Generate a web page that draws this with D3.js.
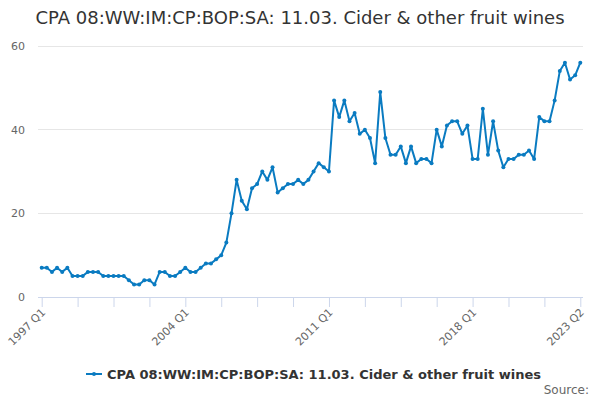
<!DOCTYPE html>
<html><head><meta charset="utf-8">
<script src="https://cdn.jsdelivr.net/npm/d3@7"></script>
<style>body{margin:0;background:#fff}svg{display:block;font-family:"DejaVu Sans",sans-serif}</style>
</head><body><svg id="c" width="600" height="400"></svg>
<script>
const title = "CPA 08:WW:IM:CP:BOP:SA: 11.03. Cider & other fruit wines";
const seriesName = "CPA 08:WW:IM:CP:BOP:SA: 11.03. Cider & other fruit wines";
const startYear = 1997;
const values = [7,7,6,7,6,7,5,5,5,6,6,6,5,5,5,5,5,4,3,3,4,4,3,6,6,5,5,6,
  7,6,6,7,8,8,9,10,13,20,28,23,21,26,27,30,28,31,25,26,27,27,28,27,28,30,32,31,
  30,47,43,47,42,44,39,40,38,32,49,38,34,34,36,32,36,32,33,33,32,40,36,41,42,42,39,41,
  33,33,45,34,42,35,31,33,33,34,34,35,33,43,42,42,47,54,56,52,53,56];
const categories = values.map((v,i)=> (startYear + Math.floor(i/4)) + " Q" + (i%4+1));
const yTicks = [0,20,40,60];
const labelledCats = ["1997 Q1","2004 Q1","2011 Q1","2018 Q1","2023 Q2"];

const svg = d3.select("#c");
const m = {l:41.7, r:580.3, t:46, b:297};
const x = d3.scalePoint().domain(categories).range([m.l, m.r]);
const y = d3.scaleLinear().domain([0,60]).range([m.b, m.t]);

svg.append("text").attr("x",300).attr("y",24).attr("text-anchor","middle")
  .attr("font-size",18).attr("fill","#333").text(title);

// grid
svg.append("g").selectAll("line").data(yTicks.filter(d=>d>0)).join("line")
  .attr("x1",38).attr("x2",583).attr("y1",d=>y(d)).attr("y2",d=>y(d))
  .attr("stroke","#e6e6e6").attr("stroke-width",1).attr("shape-rendering","crispEdges");
svg.append("g").selectAll("text").data(yTicks).join("text")
  .attr("x",25).attr("y",d=>y(d)+4).attr("text-anchor","end")
  .attr("font-size",11).attr("fill","#666").text(d=>d);

// x axis
const tickCats = categories.filter((c,i)=>i%7===0);
const xAxis = d3.axisBottom(x).tickValues(tickCats).tickSize(10)
  .tickFormat(d=> labelledCats.includes(d)? d : "");
const gx = svg.append("g").attr("transform",`translate(0,${m.b})`).call(xAxis);
gx.select(".domain").attr("d",`M38,0.5H583`).attr("stroke","#ccd6eb");
gx.selectAll(".tick line").attr("stroke","#ccd6eb");
gx.selectAll(".tick text").attr("font-size",11).attr("fill","#666")
  .attr("font-family","DejaVu Sans, sans-serif")
  .attr("text-anchor","end").attr("dy",null).attr("y",0)
  .attr("transform","translate(4,16) rotate(-45)");

const col = "#0a7bc1";
svg.append("path").datum(values).attr("fill","none").attr("stroke",col)
  .attr("stroke-width",2).attr("stroke-linejoin","round")
  .attr("d", d3.line().x((d,i)=>x(categories[i])).y(d=>y(d)));
svg.append("g").selectAll("circle").data(values).join("circle")
  .attr("cx",(d,i)=>x(categories[i])).attr("cy",d=>y(d)).attr("r",2).attr("fill",col);

// legend
const lg = svg.append("g").attr("transform","translate(86,374)");
lg.append("line").attr("x1",0).attr("x2",16).attr("y1",0).attr("y2",0).attr("stroke",col).attr("stroke-width",2);
lg.append("circle").attr("cx",8).attr("cy",0).attr("r",2).attr("fill",col);
lg.append("text").attr("x",21).attr("y",5).attr("font-size",13).attr("font-weight","bold")
  .attr("fill","#333").text(seriesName);

svg.append("text").attr("x",589).attr("y",394).attr("text-anchor","end")
  .attr("font-size",12).attr("fill","#666").text("Source:");
</script></body></html>
